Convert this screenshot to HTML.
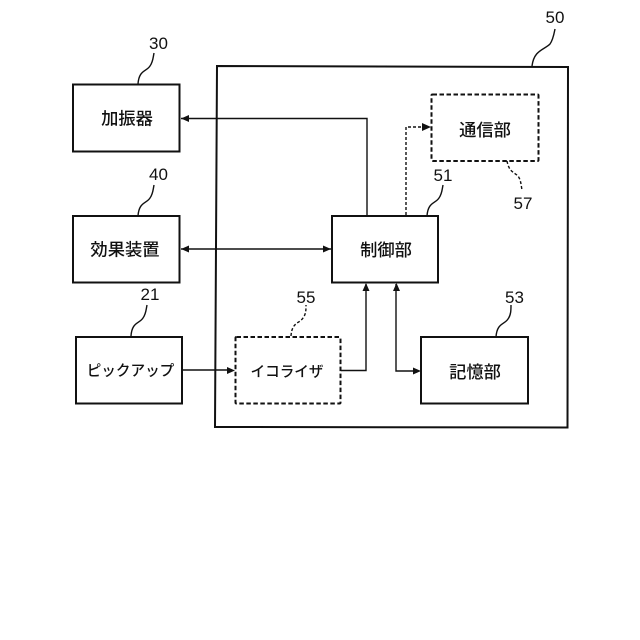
<!DOCTYPE html>
<html>
<head>
<meta charset="utf-8">
<style>
html,body{margin:0;padding:0;background:#fff;width:640px;height:640px;overflow:hidden}
svg{display:block}
.j{font-family:"Liberation Sans","Noto Sans CJK JP",sans-serif;font-size:17.3px;fill:#111;text-anchor:middle;font-weight:500}
.k{font-family:"Liberation Sans","Noto Sans CJK JP",sans-serif;font-size:14.6px;fill:#111;text-anchor:middle;font-weight:500}
.n{font-family:"Liberation Sans",sans-serif;font-size:17px;fill:#111;text-anchor:middle}
.b{fill:#fff;stroke:#111;stroke-width:2}
.d{fill:#fff;stroke:#111;stroke-width:2;stroke-dasharray:4.5 2.5}
.l{fill:none;stroke:#111;stroke-width:1.4}
.ld{fill:none;stroke:#111;stroke-width:1.4;stroke-dasharray:3 2}
.a{fill:#111;stroke:none}
</style>
</head>
<body>
<svg width="640" height="640" viewBox="0 0 640 640" xmlns="http://www.w3.org/2000/svg">
<rect width="640" height="640" fill="#fff"/>

<!-- outer box -->
<path d="M217 66 L568 67 L567.5 427.5 L215 427 Z" fill="none" stroke="#111" stroke-width="2"/>

<!-- connectors -->
<path class="l" d="M181 118.5 H367 V216"/>
<path class="ld" d="M406 215 V127 H426"/>
<path class="l" d="M181 249 H332"/>
<path class="l" d="M183 370 H232"/>
<path class="l" d="M341 370.5 H366 V284"/>
<path class="l" d="M396 284 V371 H417"/>

<!-- arrowheads -->
<polygon class="a" points="181,118.5 189,115 189,122"/>
<polygon class="a" points="431,127 422,123 422,131"/>
<polygon class="a" points="181,249 189,245.5 189,252.5"/>
<polygon class="a" points="331,249 323,245.5 323,252.5"/>
<polygon class="a" points="235,370.5 227,367 227,374"/>
<polygon class="a" points="366,283 362.5,291 369.5,291"/>
<polygon class="a" points="396.500,283 393,291 400,291"/>
<polygon class="a" points="421,371 413,367.500 413,374.500"/>

<!-- boxes -->
<rect class="b" x="73" y="84.500" width="106.500" height="67"/>
<rect class="b" x="73" y="216" width="106.500" height="66.500"/>
<rect class="b" x="76" y="337" width="106" height="66.500"/>
<rect class="b" x="332" y="216" width="106" height="66.500"/>
<rect class="b" x="421" y="337" width="107" height="66.500"/>
<rect class="d" x="431.500" y="94.500" width="107" height="66.500" rx="1"/>
<rect class="d" x="235.500" y="337" width="105" height="66.500" rx="1"/>

<!-- leaders -->
<path class="l" d="M138 84 C139 70 146 72 150 66 C153 62 153 58 154 53"/>
<path class="l" d="M138 216 C139 202 146 204 150 198 C153 194 153 190 154 185"/>
<path class="l" d="M131 336 C132 322 139 324 143 318 C146 314 146 310 147 305"/>
<path class="ld" d="M291 336 C292 322 299 324 303 318 C306 314 306 310 306 305"/>
<path class="l" d="M532 66 C534 50 544 50 550 44 C553 40 554 34 555 29"/>
<path class="l" d="M427 216 C428 202 435 204 439 198 C442 194 442 190 443 185"/>
<path class="ld" d="M507 161 C509 172 514 172 518 176 C521 180 521 185 522 190"/>
<path class="l" d="M496 337 C497 323 504 325 508 319 C511 315 511 310 511 305"/>

<!-- numbers -->
<text class="n" x="158.500" y="49">30</text>
<text class="n" x="158.500" y="180">40</text>
<text class="n" x="150" y="300">21</text>
<text class="n" x="306" y="303">55</text>
<text class="n" x="555" y="23">50</text>
<text class="n" x="443" y="181">51</text>
<text class="n" x="523" y="209">57</text>
<text class="n" x="514.500" y="303">53</text>

<!-- labels -->
<text class="j" x="127" y="124.500">加振器</text>
<text class="j" x="125" y="255.500">効果装置</text>
<text class="k" x="130.500" y="375.500">ピックアップ</text>
<text class="j" x="485" y="136">通信部</text>
<text class="j" x="386" y="256">制御部</text>
<text class="k" x="287" y="376.500">イコライザ</text>
<text class="j" x="475" y="378">記憶部</text>
</svg>
</body>
</html>
